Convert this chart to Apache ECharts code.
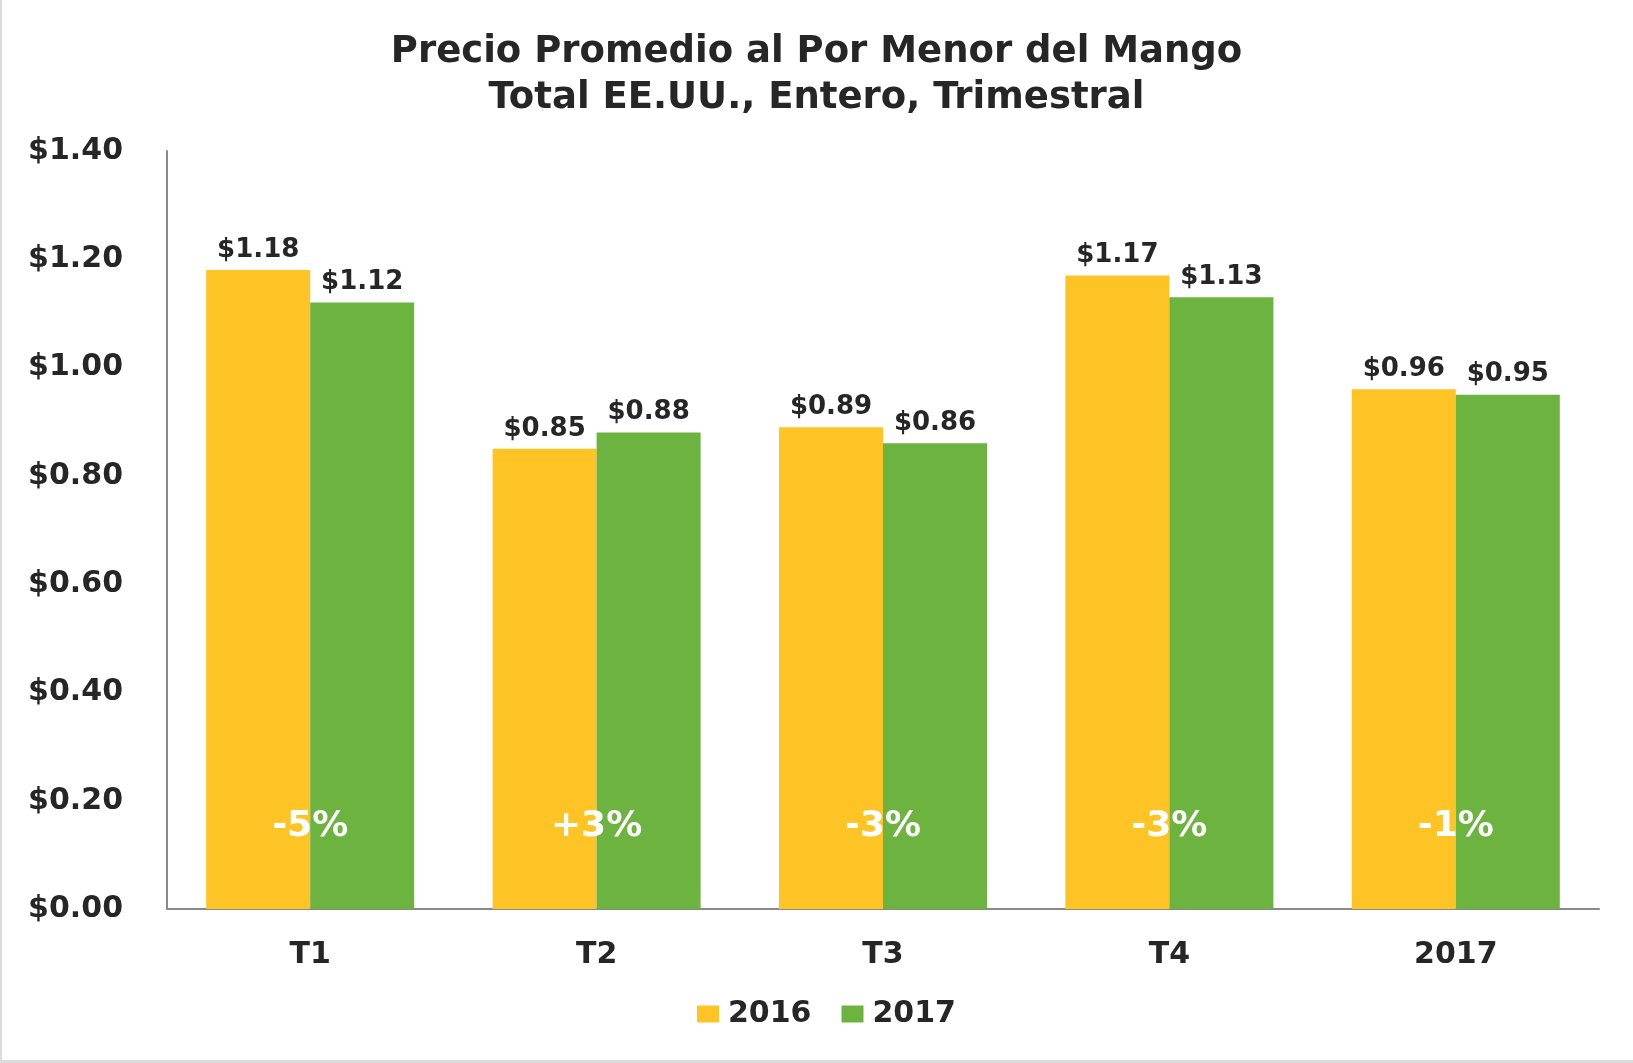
<!DOCTYPE html>
<html>
<head>
<meta charset="utf-8">
<script src="https://cdn.jsdelivr.net/npm/echarts@6/dist/echarts.min.js"></script>
<style>
  html, body { margin: 0; padding: 0; background: #ffffff; }
  #chart { width: 1633px; height: 1063px; }
  .edge-left { position: absolute; left: 0; top: 0; width: 2px; height: 1063px; background: #dcdcdc; }
  .edge-bottom { position: absolute; left: 0; top: 1060px; width: 1633px; height: 3px; background: #dcdcdc; }
</style>
</head>
<body>
<div id="chart"></div>
<div class="edge-left"></div>
<div class="edge-bottom"></div>
<script>
const categories = ['T1', 'T2', 'T3', 'T4', '2017']
const values2016 = [1.18, 0.85, 0.89, 1.17, 0.96]
const values2017 = [1.12, 0.88, 0.86, 1.13, 0.95]
const changeLabels = ['-5%', '+3%', '-3%', '-3%', '-1%']

const yellow = '#fec325'
const green = '#6db33f'
const ink = '#262626'
const fontFamily = 'DejaVu Sans, sans-serif'

const chart = echarts.init(document.getElementById('chart'))

function barLabel() {
  return {
    show: true,
    position: 'top',
    distance: 7,
    color: ink,
    fontFamily,
    fontWeight: 'bold',
    fontSize: 26,
    formatter: (p) => '$' + p.value.toFixed(2),
  }
}

chart.setOption({
  animation: false,
  textStyle: { fontFamily },
  title: {
    text: 'Precio Promedio al Por Menor del Mango\nTotal EE.UU., Entero, Trimestral',
    left: 'center',
    top: 24,
    textStyle: {
      color: ink,
      fontFamily,
      fontWeight: 'bold',
      fontSize: 37,
      lineHeight: 46,
    },
  },
  legend: {
    data: ['2016', '2017'],
    top: 994,
    left: 692,
    itemWidth: 22,
    itemHeight: 17,
    itemGap: 30,
    icon: 'rect',
    textStyle: {
      color: ink,
      fontFamily,
      fontWeight: 'bold',
      fontSize: 30,
      padding: [0, 0, 0, 4],
    },
  },
  grid: {
    left: 167,
    right: 34,
    top: 151,
    bottom: 154,
  },
  xAxis: {
    type: 'category',
    data: categories,
    axisLine: { lineStyle: { color: '#898989', width: 2 } },
    axisTick: { show: false },
    axisLabel: {
      color: ink,
      fontFamily,
      fontWeight: 'bold',
      fontSize: 30,
      margin: 31,
    },
  },
  yAxis: {
    type: 'value',
    min: 0,
    max: 1.4,
    interval: 0.2,
    axisLine: { show: true, lineStyle: { color: '#898989', width: 2 } },
    axisTick: { show: false },
    splitLine: { show: false },
    axisLabel: {
      color: ink,
      fontFamily,
      fontWeight: 'bold',
      fontSize: 30,
      margin: 44,
      formatter: (v) => '$' + v.toFixed(2),
    },
  },
  series: [
    {
      name: '2016',
      type: 'bar',
      data: values2016,
      barWidth: 104,
      barGap: '0%',
      itemStyle: { color: yellow },
      label: barLabel(),
    },
    {
      name: '2017',
      type: 'bar',
      data: values2017,
      barWidth: 104,
      itemStyle: { color: green },
      label: barLabel(),
    },
    {
      name: 'change',
      type: 'custom',
      data: categories.map((c, i) => [i, 0]),
      z: 10,
      renderItem(params, api) {
        const p = api.coord([api.value(0), 0])
        return {
          type: 'text',
          x: p[0],
          y: p[1] - 82,
          style: {
            text: changeLabels[params.dataIndex],
            fill: '#ffffff',
            font: 'bold 36px ' + fontFamily,
            align: 'center',
            verticalAlign: 'middle',
          },
        }
      },
    },
  ],
})
</script>
</body>
</html>
